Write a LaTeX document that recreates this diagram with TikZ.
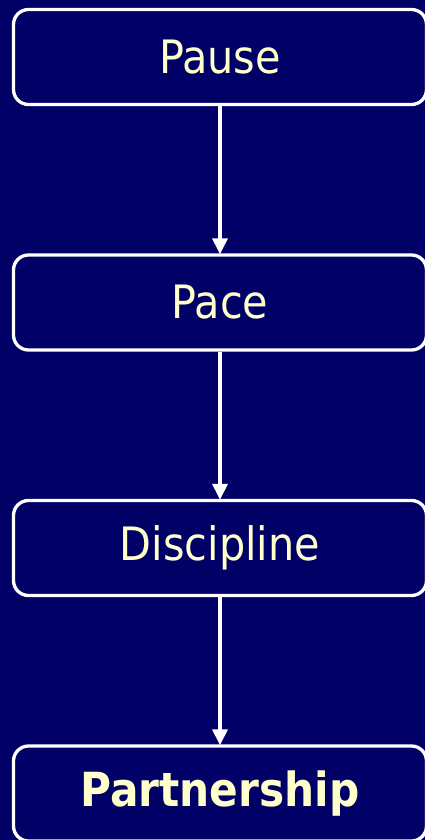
\documentclass[tikz,border=0pt]{standalone}
\usepackage{fontspec}
\setmainfont{DejaVu Sans Condensed}
\usetikzlibrary{arrows.meta}
\definecolor{navy}{HTML}{000066}
\definecolor{paleyellow}{HTML}{FFFFCC}
\tikzset{
  stage/.style={draw=white, line width=3.3pt, rounded corners=15pt, fill=navy,
    minimum width=413pt, minimum height=95pt, text=paleyellow,
    font=\fontsize{46}{50}\selectfont, inner sep=0pt},
  link/.style={draw=white, line width=3.3pt,
    -{Triangle[width=15pt,length=16pt]}, shorten >=-1pt}
}
\begin{document}
\begin{tikzpicture}[x=1pt,y=-1pt]
  \fill[navy] (0,0) rectangle (425,840);
  \useasboundingbox (0,0) rectangle (425,840);
  \node[stage] (pause) at (220,57) {Pause};
  \node[stage] (pace) at (220,302.5) {Pace};
  \node[stage] (discipline) at (220,548) {Discipline};
  \node[stage, font=\fontsize{47}{52}\selectfont\bfseries] (partnership) at (220,793.5) {Partnership};
  \draw[link] (pause) -- (pace);
  \draw[link] (pace) -- (discipline);
  \draw[link] (discipline) -- (partnership);
\end{tikzpicture}
\end{document}
